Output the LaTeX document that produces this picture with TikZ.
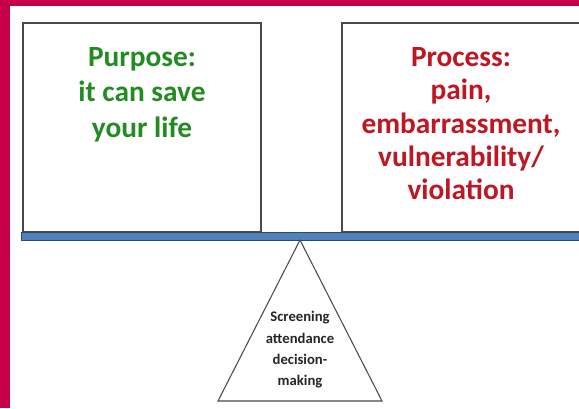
\documentclass[tikz,border=0pt]{standalone}
\usepackage{fontspec}
\setmainfont{Carlito}
\usetikzlibrary{positioning}
\definecolor{frame}{HTML}{C7004A}
\definecolor{gainc}{HTML}{228B22}
\definecolor{costc}{HTML}{BE1622}
\definecolor{beamc}{HTML}{4F81BD}
\definecolor{beamedge}{HTML}{2E4A6B}
\definecolor{edgec}{HTML}{4A4A4A}

\begin{document}
\begin{tikzpicture}[
  x=0.75pt, y=-0.75pt,
  panel/.style={rectangle, draw=edgec, line width=0.8pt, minimum width=178.5pt, minimum height=156.75pt, inner sep=0pt},
  weight/.style={font=\fontsize{22}{25}\selectfont\bfseries, text=#1, align=center, inner sep=0pt},
  beam/.style={rectangle, draw=beamedge, fill=beamc, line width=0.6pt, minimum width=447pt, minimum height=6pt, inner sep=0pt},
]
\useasboundingbox (0,0) rectangle (579,408);
\fill[white] (0,0) rectangle (579,408);

% crimson frame on two sides
\fill[frame] (0,0) rectangle (10,408);
\fill[frame] (0,0) rectangle (579,6);

% the two loads
\node[panel] (purpose) at (142,127.5) {};
\node[panel] (process) at (461,127.5) {};
\node[weight=gainc, font=\fontsize{22}{26.5}\selectfont\bfseries, below=18.5pt of purpose.north] (purposetxt) {Purpose:\\it can save\\your life};
\node[weight=costc, below=18.5pt of process.north] (processtxt) {Process:\\pain,\\embarrassment,\\vulnerability/\\violation};

% beam and fulcrum
\node[beam, anchor=north west] (bar) at (21,232) {};
\coordinate (apex) at (300,240);
\coordinate (baseL) at (218,401);
\coordinate (baseR) at (382,401);
\draw[edgec, line width=0.8pt] (apex) -- (baseR) -- (baseL) -- cycle;
\node[font=\fontsize{11}{16}\selectfont\bfseries, align=center, text=black!85] (pivot) at (300,350) {Screening\\attendance\\decision-\\making};

\end{tikzpicture}
\end{document}
